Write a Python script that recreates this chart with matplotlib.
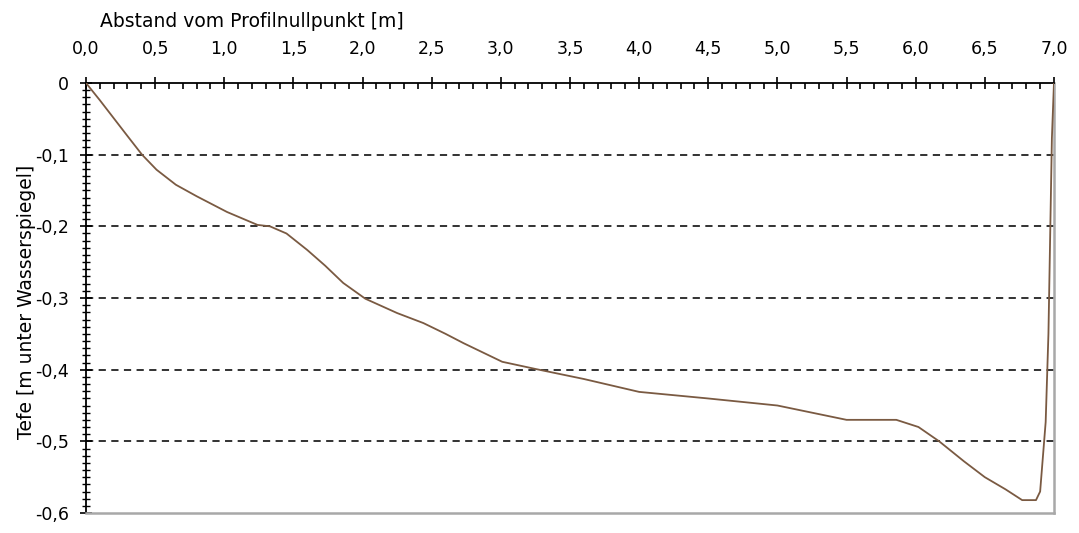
import matplotlib
matplotlib.use("Agg")
import matplotlib.pyplot as plt
from matplotlib.ticker import MultipleLocator, FuncFormatter

# Profilpunkte: Abstand [m] und Tiefe [m]
abstand = [0.0, 0.1, 0.2, 0.3, 0.405, 0.51, 0.65, 0.8, 1.02, 1.24, 1.33, 1.45,
           1.6, 1.73, 1.86, 2.02, 2.25, 2.44, 2.6, 2.73, 3.01, 3.25, 3.6,
           4.0, 4.49, 5.0, 5.25, 5.5, 5.86, 6.02, 6.17, 6.35, 6.5, 6.65,
           6.77, 6.87, 6.9, 6.94, 6.96, 6.985, 7.0]
tiefe = [0.0, -0.024, -0.049, -0.074, -0.1, -0.121, -0.142, -0.158, -0.18,
         -0.198, -0.2, -0.21, -0.233, -0.255, -0.279, -0.301, -0.321, -0.335,
         -0.35, -0.363, -0.389, -0.399, -0.413, -0.431, -0.44, -0.45, -0.46,
         -0.47, -0.47, -0.48, -0.5, -0.528, -0.55, -0.567, -0.582, -0.582,
         -0.57, -0.473, -0.35, -0.077, 0.0]

x_label = "Abstand vom Profilnullpunkt [m]"
y_label = "Tefe [m unter Wasserspiegel]"

plt.rcParams['font.family'] = ['DejaVu Sans']

fig = plt.figure(figsize=(10.79, 5.33), dpi=100)
ax = fig.add_axes([0.0797, 0.0375, 0.8971, 0.8068])

ax.plot(abstand, tiefe, color='#7a5a42', lw=1.3, zorder=3)

ax.set_xlim(0, 7)
ax.set_ylim(-0.6, 0)

# x-Achse oben
ax.xaxis.tick_top()
ax.xaxis.set_label_position('top')
ax.xaxis.set_major_locator(MultipleLocator(0.5))
ax.xaxis.set_minor_locator(MultipleLocator(0.1))
ax.yaxis.set_major_locator(MultipleLocator(0.1))
ax.yaxis.set_minor_locator(MultipleLocator(0.01))

komma = lambda v, p: f"{v:.1f}".replace('.', ',')
ax.xaxis.set_major_formatter(FuncFormatter(komma))
ax.yaxis.set_major_formatter(FuncFormatter(
    lambda v, p: "0" if abs(v) < 1e-9 else f"{v:.1f}".replace('.', ',')))

ax.tick_params(axis='x', which='major', direction='inout', length=8,
               width=1.2, labelsize=12.5, pad=14)
ax.tick_params(axis='x', which='minor', direction='in', length=4, width=1.2)
ax.tick_params(axis='y', which='major', direction='inout', length=9,
               width=1.2, labelsize=12.5, pad=8)
ax.tick_params(axis='y', which='minor', direction='inout', length=6, width=1)

ax.set_xlabel(x_label, fontsize=13.5, ha='left', va='center')
ax.xaxis.set_label_coords(0.0145, 1.142)
ax.set_ylabel(y_label, fontsize=13.5, va='center')
ax.yaxis.set_label_coords(-0.061, 0.49)

for lvl in [-0.1, -0.2, -0.3, -0.4, -0.5]:
    ax.axhline(lvl, color='#222222', lw=1.3, ls=(0, (4, 3)), zorder=1)

ax.spines['top'].set_linewidth(1.3)
ax.spines['left'].set_linewidth(1.3)
ax.spines['bottom'].set_color('#a8a8a8')
ax.spines['right'].set_color('#a8a8a8')
ax.spines['bottom'].set_linewidth(1.8)
ax.spines['right'].set_linewidth(1.8)

fig.savefig("out.png", dpi=100)
plt.close(fig)
